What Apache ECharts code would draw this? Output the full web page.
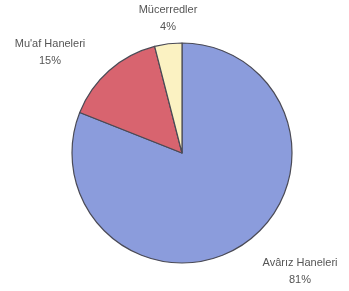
<!DOCTYPE html>
<html><head><meta charset="utf-8">
<script src="https://cdn.jsdelivr.net/npm/echarts@6/dist/echarts.min.js"></script>
<style>html,body{margin:0;padding:0;background:#fff}#c{width:349px;height:291px}</style>
</head><body><div id="c"></div>
<script>
const categories = ["Avârız Haneleri", "Mu'af Haneleri", "Mücerredler"];
const values = [81, 15, 4];
const colors = ["#8b9cdc", "#d8646f", "#fbf2c2"];
const labelPos = [[300, 271], [50, 52], [168, 18]];

const chart = echarts.init(document.getElementById('c'), null, {renderer: 'canvas'});
chart.setOption({
  animation: false,
  backgroundColor: '#fff',
  series: [{
    type: 'pie',
    center: [182, 153],
    radius: 110,
    startAngle: 90,
    clockwise: true,
    data: categories.map((n, i) => ({name: n, value: values[i], itemStyle: {color: colors[i]}})),
    itemStyle: {borderColor: '#4a4a55', borderWidth: 1.2},
    label: {
      show: true,
      formatter: p => p.name + '\n' + p.value + '%',
      color: '#555',
      fontFamily: 'Liberation Sans, Arial, sans-serif',
      fontSize: 11,
      lineHeight: 17,
      align: 'center',
      overflow: 'none',
      width: 200
    },
    labelLine: {show: false},
    labelLayout: params => ({x: labelPos[params.dataIndex][0], y: labelPos[params.dataIndex][1], align: 'center', verticalAlign: 'middle', width: 200})
  }]
});
</script></body></html>
